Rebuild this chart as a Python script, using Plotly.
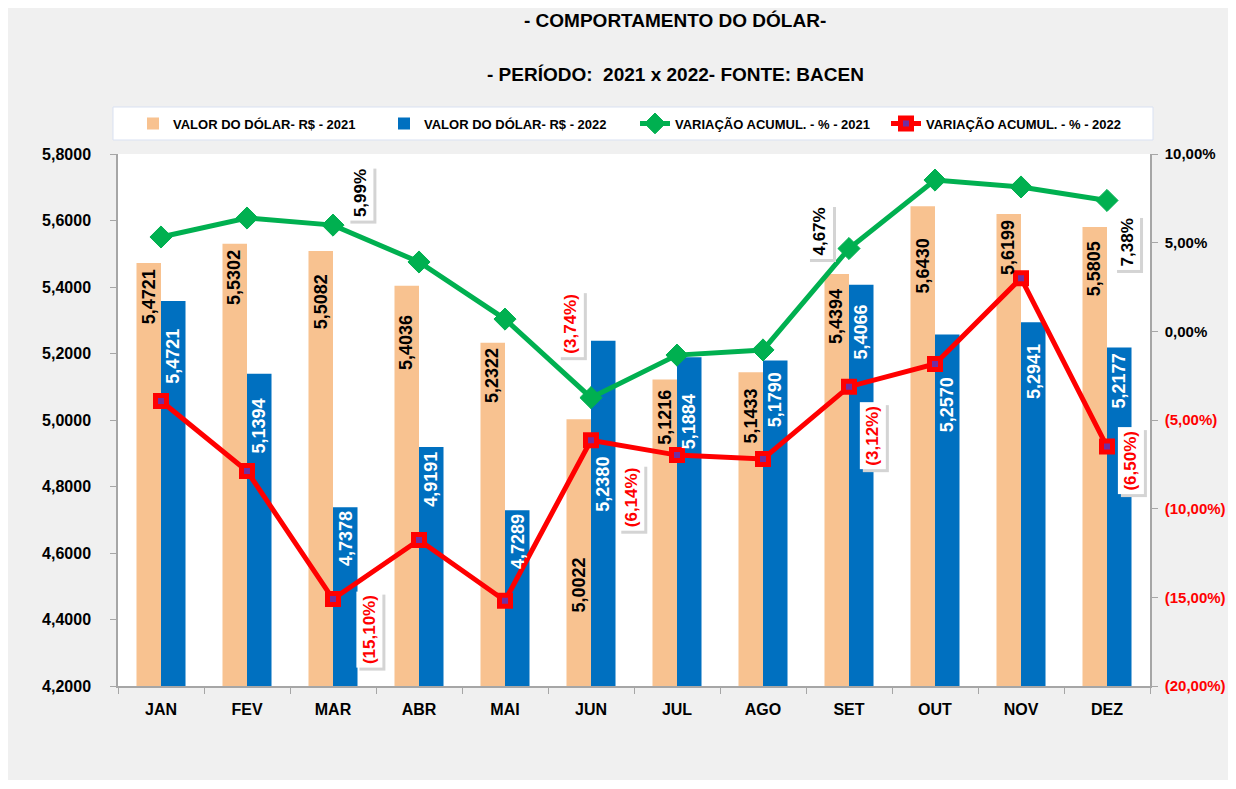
import plotly.graph_objects as go

# ---------------- data ----------------
months = ["JAN", "FEV", "MAR", "ABR", "MAI", "JUN", "JUL", "AGO", "SET", "OUT", "NOV", "DEZ"]
dolar_2021 = [5.4721, 5.5302, 5.5082, 5.4036, 5.2322, 5.0022, 5.1216, 5.1433, 5.4394, 5.6430, 5.6199, 5.5805]
dolar_2022 = [5.3580, 5.1394, 4.7378, 4.9191, 4.7289, 5.2380, 5.1884, 5.1790, 5.4066, 5.2570, 5.2941, 5.2177]
labels_2021 = ["5,4721", "5,5302", "5,5082", "5,4036", "5,2322", "5,0022", "5,1216", "5,1433", "5,4394", "5,6430", "5,6199", "5,5805"]
labels_2022 = ["5,4721", "5,1394", "4,7378", "4,9191", "4,7289", "5,2380", "5,1884", "5,1790", "5,4066", "5,2570", "5,2941", "5,2177"]
var_2021 = [5.32, 6.39, 5.99, 3.91, 0.69, -3.74, -1.34, -1.05, 4.67, 8.53, 8.14, 7.38]
var_2022 = [-3.93, -7.88, -15.10, -11.77, -15.19, -6.14, -6.98, -7.20, -3.12, -1.84, 3.00, -6.50]
labeled_months = ["MAR", "JUN", "SET", "DEZ"]
left_ticks = [4.2, 4.4, 4.6, 4.8, 5.0, 5.2, 5.4, 5.6, 5.8]
right_ticks = [-20, -15, -10, -5, 0, 5, 10]

# ---------------- styles ----------------
FONT = "Liberation Sans, Arial, sans-serif"
C21 = "#F8C290"
C22 = "#0070C0"
CG = "#00B050"
CR = "#FF0000"
AXC = "#A6A6A6"

W, H = 1220, 772
ML, MR, MT, MB = 110, 78, 146, 94

# per-label vertical gap (px) between bar top and label
gap_2021 = [4, 4, 21, 27, 3, 136, 8, 14, 13, 30, 4, 12]
gap_2022 = [26, 23, 2, 3, 2, 114, 35, 10, 18, 41, 20, 4]
# line-label offsets (dx, dy) in px, for MAR, JUN, SET, DEZ
off_2021 = [(27, 32), (-20, 74), (-29, 17), (20, -42)]
off_2022 = [(36, -31), (40, -57), (24, -49), (24, -14)]


def pct(v):
    s = f"{abs(v):.2f}".replace(".", ",") + "%"
    return f"({s})" if v < 0 else s


fig = go.Figure()
fig.add_trace(go.Bar(x=months, y=dolar_2021, name="VALOR DO DÓLAR- R$ - 2021",
                     marker=dict(color=C21, line=dict(width=0))))
fig.add_trace(go.Bar(x=months, y=dolar_2022, name="VALOR DO DÓLAR- R$ - 2022",
                     marker=dict(color=C22, line=dict(width=0))))
fig.add_trace(go.Scatter(x=months, y=var_2021, name="VARIAÇÃO ACUMUL. - % - 2021", yaxis="y2",
                         mode="lines+markers", line=dict(color=CG, width=5),
                         marker=dict(symbol="diamond", size=17, color=CG, line=dict(color=CG, width=1))))
fig.add_trace(go.Scatter(x=months, y=var_2022, name="VARIAÇÃO ACUMUL. - % - 2022", yaxis="y2",
                         mode="lines+markers", line=dict(color=CR, width=5),
                         marker=dict(symbol="square", size=11, color="#7030A0", line=dict(color=CR, width=5))))

ann = []
# bar value labels
for i, m in enumerate(months):
    ann.append(dict(x=m, y=dolar_2021[i], xref="x", yref="y", text=labels_2021[i], showarrow=False,
                    textangle=-90, xanchor="center", yanchor="top", xshift=-12.3, yshift=-gap_2021[i],
                    font=dict(family=FONT, size=18, color="black", weight="bold")))
    ann.append(dict(x=m, y=dolar_2022[i], xref="x", yref="y", text=labels_2022[i], showarrow=False,
                    textangle=-90, xanchor="center", yanchor="top", xshift=12.3, yshift=-gap_2022[i],
                    font=dict(family=FONT, size=18, color="white", weight="bold")))

# line labels with white box + soft shadow
for series, offs in ((var_2021, off_2021), (var_2022, off_2022)):
    for k, m in enumerate(labeled_months):
        i = months.index(m)
        v = series[i]
        dx, dy = offs[k]
        col = CR if v < 0 else "black"
        txt = pct(v)
        ann.append(dict(x=m, y=v, xref="x", yref="y2", text=txt, showarrow=False, textangle=-90,
                        xanchor="center", yanchor="middle", xshift=dx + 3, yshift=dy - 3,
                        bgcolor="#D4D4D4", borderpad=3,
                        font=dict(family=FONT, size=17, color="#D4D4D4", weight="bold")))
        ann.append(dict(x=m, y=v, xref="x", yref="y2", text=txt, showarrow=False, textangle=-90,
                        xanchor="center", yanchor="middle", xshift=dx, yshift=dy,
                        bgcolor="white", borderpad=3,
                        font=dict(family=FONT, size=17, color=col, weight="bold")))

PW = W - ML - MR
PH = H - MT - MB


def px(xf):  # figure pixel x -> paper
    return (xf - ML) / PW


def py(yf):  # figure pixel y -> paper
    return (H - MB - yf) / PH


# titles
ann.append(dict(x=px(667), y=py(12), xref="paper", yref="paper", text="- COMPORTAMENTO DO DÓLAR-",
                showarrow=False, xanchor="center", yanchor="middle",
                font=dict(family=FONT, size=19, color="black", weight="bold")))
ann.append(dict(x=px(667), y=py(67), xref="paper", yref="paper", text="- PERÍODO:  2021 x 2022- FONTE: BACEN",
                showarrow=False, xanchor="center", yanchor="middle",
                font=dict(family=FONT, size=19, color="black", weight="bold")))

right_text = [pct(t) if t >= 0 else f"<span style='color:{CR}'>{pct(t)}</span>" for t in right_ticks]
left_text = [f"{t:.4f}".replace(".", ",") for t in left_ticks]

# legend frame (drawn as a shape so its size matches the reference)
shapes = [dict(type="rect", xref="paper", yref="paper", x0=px(105), x1=px(1145), y0=py(132), y1=py(99),
               fillcolor="white", line=dict(color="#D9E1F2", width=1), layer="below")]

fig.update_layout(
    width=W, height=H,
    margin=dict(l=ML, r=MR, t=MT, b=MB, pad=0, autoexpand=False),
    paper_bgcolor="#F0F0F0", plot_bgcolor="white",
    barmode="group", bargap=0.43, bargroupgap=0,
    font=dict(family=FONT, size=16, color="black"),
    showlegend=True,
    legend=dict(orientation="h", x=px(125), y=py(115.5), xanchor="left", yanchor="middle",
                bgcolor="rgba(0,0,0,0)", borderwidth=0,
                font=dict(family=FONT, size=13, color="black", weight="bold"),
                itemwidth=30, entrywidth=206, entrywidthmode="pixels"),
    xaxis=dict(range=[-0.5, 11.5], showline=True, linecolor=AXC, linewidth=1.5, ticks="outside",
               tickson="boundaries", ticklen=6, tickcolor=AXC, showgrid=False, ticklabelstandoff=8,
               automargin=False, tickfont=dict(family=FONT, size=16, color="black", weight="bold")),
    yaxis=dict(range=[4.2, 5.8], tickvals=left_ticks, ticktext=left_text, showline=True, linecolor=AXC,
               linewidth=1.5, ticks="outside", ticklen=6, tickcolor=AXC, showgrid=False, zeroline=False,
               ticklabelstandoff=16, automargin=False,
               tickfont=dict(family=FONT, size=16, color="black", weight="bold")),
    yaxis2=dict(range=[-20, 10], tickvals=right_ticks, ticktext=right_text, overlaying="y", side="right",
                showline=True, linecolor=AXC, linewidth=1.5, ticks="outside", ticklen=6, tickcolor=AXC,
                showgrid=False, zeroline=False, ticklabelstandoff=4, automargin=False,
                tickfont=dict(family=FONT, size=15, color="black", weight="bold")),
    shapes=shapes,
    annotations=ann,
)

fig.write_html("out.html")
